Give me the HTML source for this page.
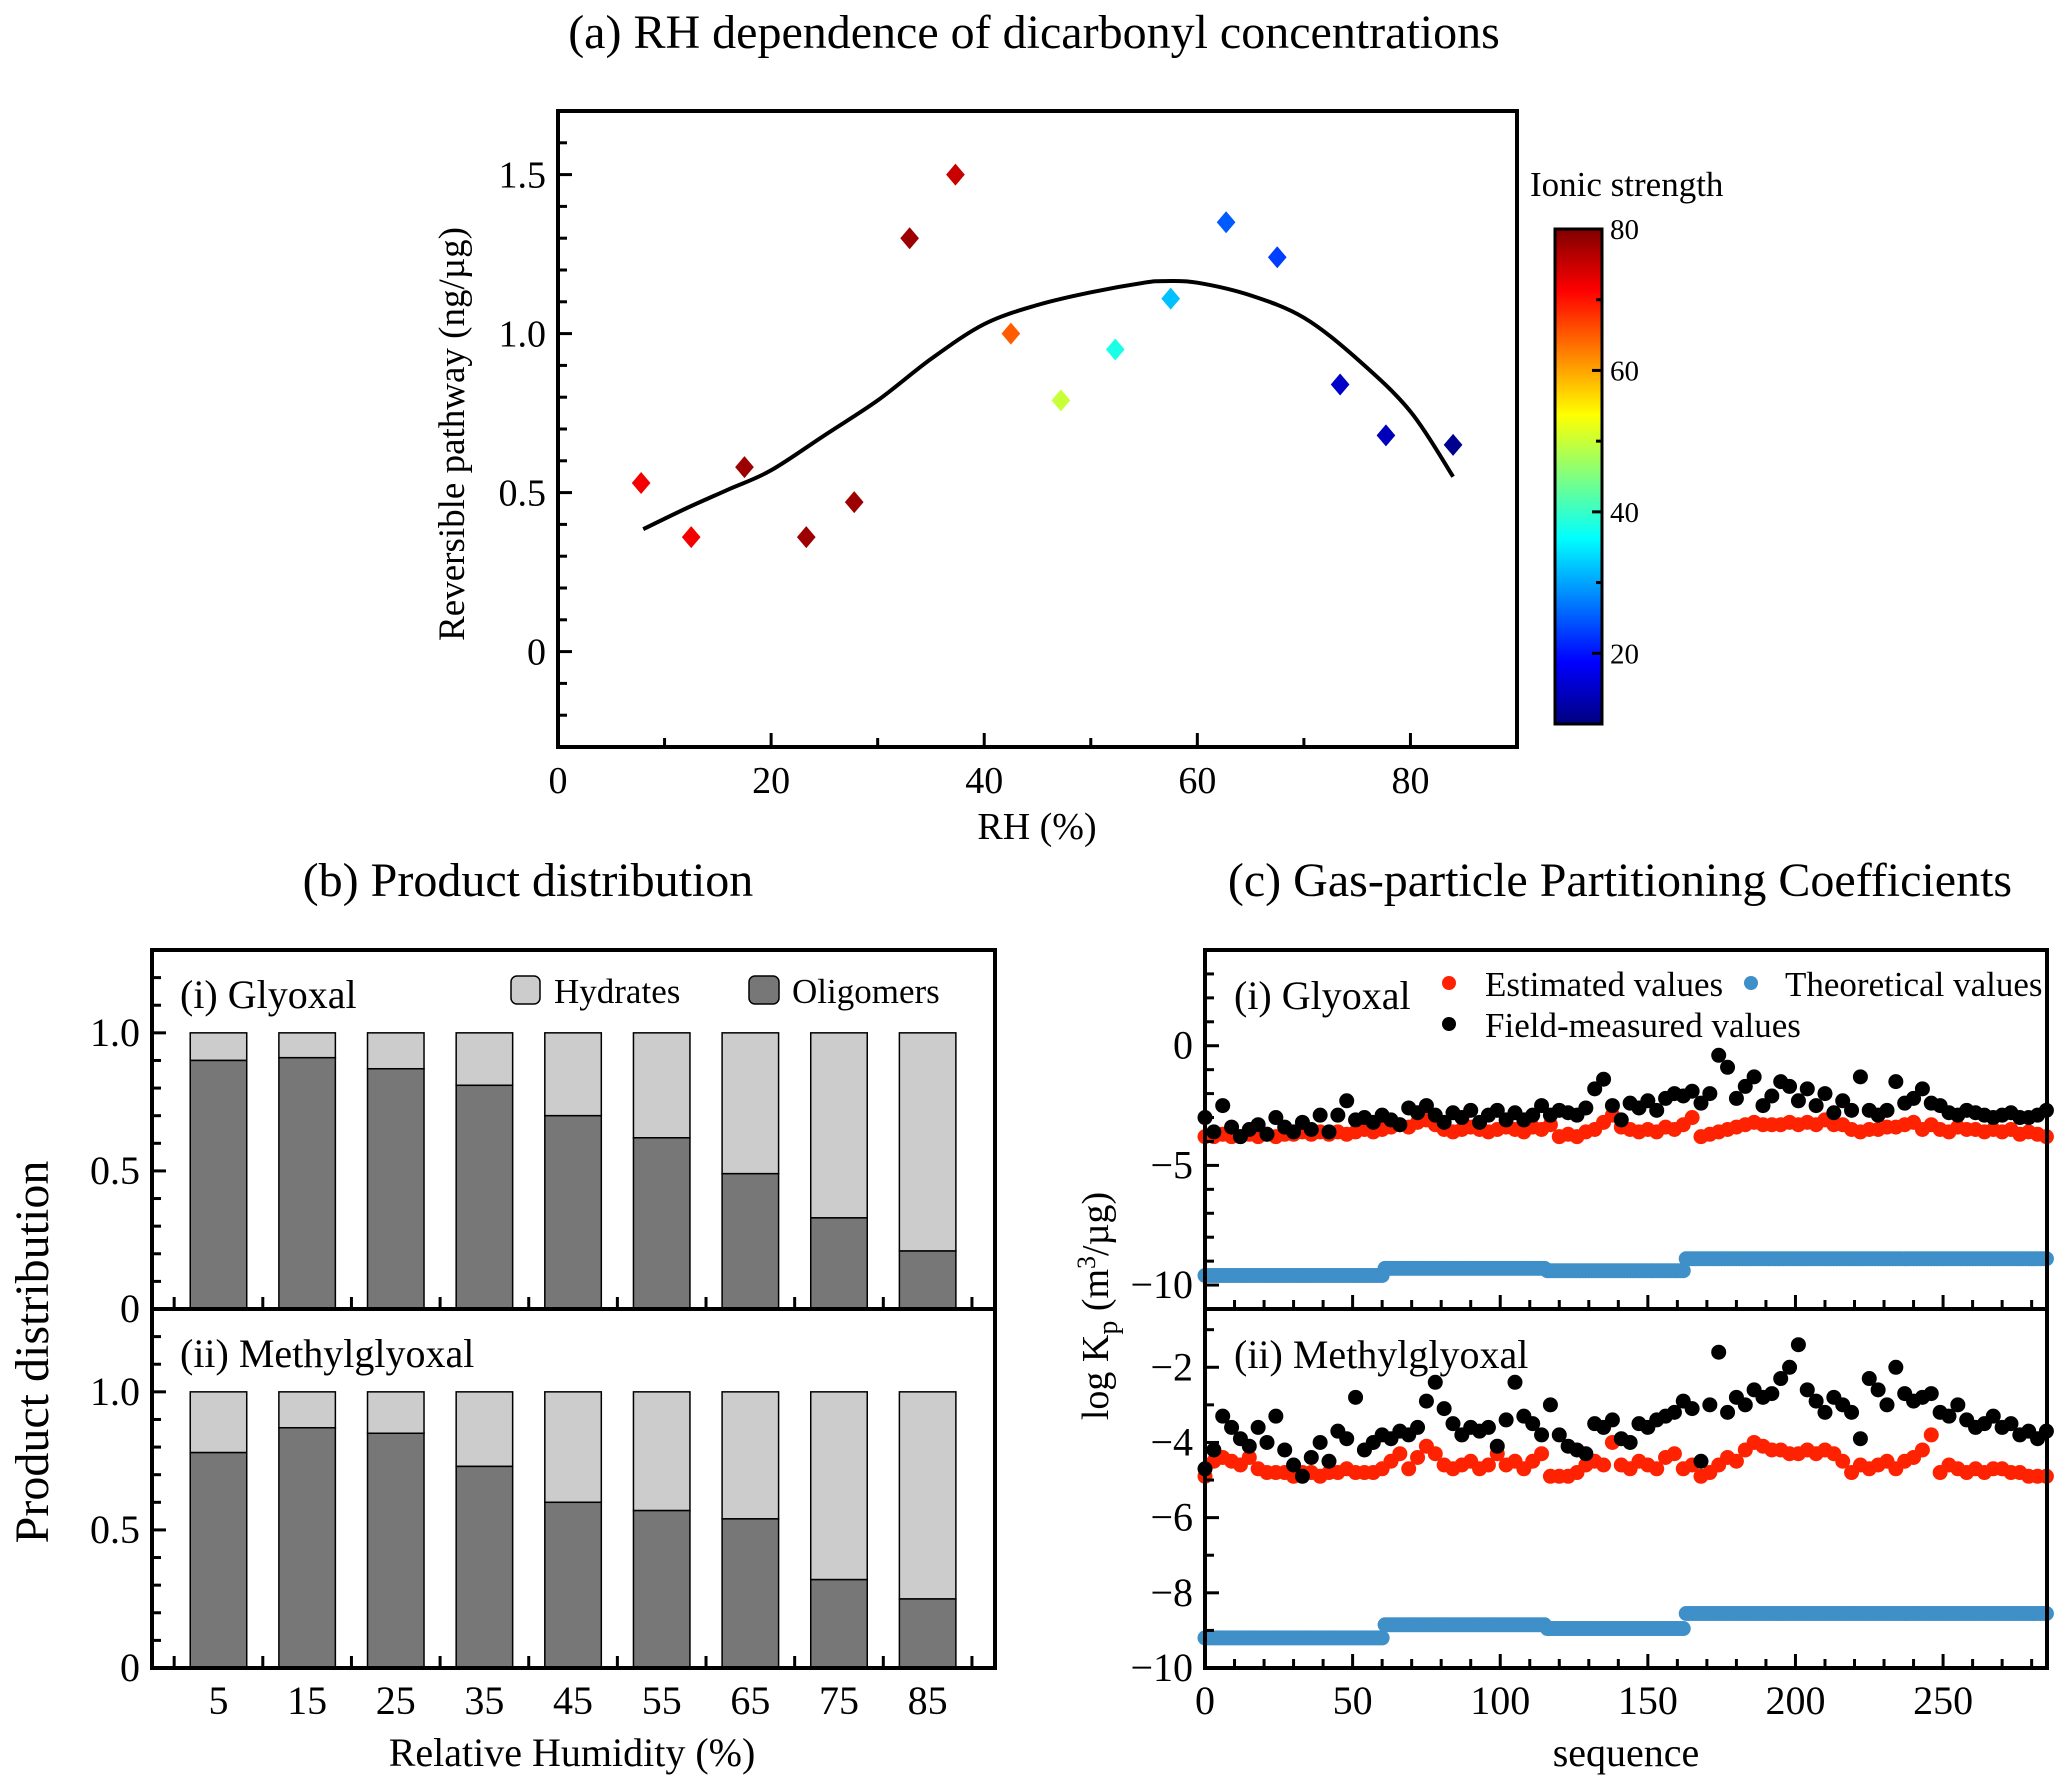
<!DOCTYPE html>
<html><head><meta charset="utf-8">
<style>
html,body{margin:0;padding:0;background:#fff;}
svg{display:block;font-family:"Liberation Serif",serif;}
svg text{font-family:"Liberation Serif",serif;}
</style></head>
<body>
<svg id="fig" width="2067" height="1789" viewBox="0 0 2067 1789" xmlns="http://www.w3.org/2000/svg">
<defs>
<linearGradient id="jet" x1="0" y1="1" x2="0" y2="0">
<stop offset="0" stop-color="#00007f"/><stop offset="0.125" stop-color="#0000ff"/>
<stop offset="0.375" stop-color="#00ffff"/><stop offset="0.625" stop-color="#ffff00"/>
<stop offset="0.875" stop-color="#ff0000"/><stop offset="1" stop-color="#7f0000"/>
</linearGradient>
</defs>
<text x="1034" y="48" font-size="48" text-anchor="middle">(a) RH dependence of dicarbonyl concentrations</text>
<text x="528" y="896" font-size="48" text-anchor="middle">(b) Product distribution</text>
<text x="1620" y="896" font-size="48" text-anchor="middle">(c) Gas-particle Partitioning Coefficients</text>
<g id="ga"></g>
<g id="gb"></g>
<g id="gc"></g>
</svg>
<script>
// ---------- Panel (a) data ----------
const rhValues = [7.8,12.5,17.5,23.3,27.8,33,37.3,42.5,47.2,52.3,57.5,62.7,67.5,73.4,77.7,84];
const reversibleValues = [0.53,0.36,0.58,0.36,0.47,1.30,1.50,1.00,0.79,0.95,1.11,1.35,1.24,0.84,0.68,0.65];
const ionicValues = [72,72,78,78,78,78,75,65,50,38,32,25,23,15,14,11];
const fitX = [8,12,16,20,25,30,35,40,45,50,55,57,60,65,70,75,80,84];
const fitY = [0.385,0.45,0.51,0.57,0.68,0.79,0.92,1.03,1.09,1.13,1.16,1.165,1.16,1.12,1.05,0.92,0.755,0.55];
const aXTicks = [0,20,40,60,80];
const aYTicks = [0,0.5,1.0,1.5];
const aYTickLabels = ["0","0.5","1.0","1.5"];
const cbTicks = [20,40,60,80];

// ---------- Panel (b) data ----------
const rhCategories = [5,15,25,35,45,55,65,75,85];
const glyoxalOligomers = [0.90,0.91,0.87,0.81,0.70,0.62,0.49,0.33,0.21];
const methylOligomers = [0.78,0.87,0.85,0.73,0.60,0.57,0.54,0.32,0.25];
const bYTicks = [0,0.5,1.0];
const bYTickLabels = ["0","0.5","1.0"];

// ---------- Panel (c) data (sequence step 3) ----------
const seqStep = 3;
const glyEstimated = [-3.8,-3.8,-3.7,-3.8,-3.8,-3.7,-3.8,-3.7,-3.8,-3.7,-3.7,-3.6,-3.7,-3.6,-3.7,-3.6,-3.7,-3.6,-3.5,-3.6,
-3.5,-3.4,-3.3,-3.4,-3.2,-3.1,-3.3,-3.5,-3.6,-3.5,-3.4,-3.5,-3.6,-3.5,-3.4,-3.5,-3.6,-3.4,-3.5,-3.3,
-3.8,-3.7,-3.8,-3.6,-3.5,-3.2,-2.9,-3.4,-3.5,-3.6,-3.5,-3.6,-3.4,-3.5,-3.3,-3.0,-3.8,-3.7,-3.6,-3.5,
-3.4,-3.3,-3.2,-3.3,-3.3,-3.3,-3.2,-3.3,-3.2,-3.3,-3.1,-3.3,-3.3,-3.5,-3.6,-3.5,-3.5,-3.4,-3.4,-3.3,
-3.2,-3.5,-3.3,-3.5,-3.6,-3.4,-3.5,-3.5,-3.6,-3.5,-3.6,-3.5,-3.7,-3.6,-3.7,-3.8];
const glyField = [-3.0,-3.6,-2.5,-3.4,-3.8,-3.5,-3.3,-3.7,-3.0,-3.4,-3.6,-3.2,-3.5,-2.9,-3.6,-2.9,-2.3,-3.1,-3.0,-3.2,
-2.9,-3.1,-3.3,-2.6,-2.8,-2.5,-2.9,-3.2,-2.8,-3.0,-2.7,-3.2,-2.9,-2.7,-3.1,-2.8,-3.1,-2.9,-2.5,-2.9,
-2.7,-2.8,-2.9,-2.6,-1.8,-1.4,-2.5,-3.1,-2.4,-2.6,-2.3,-2.7,-2.2,-2.0,-2.1,-1.9,-2.4,-2.0,-0.4,-0.9,
-2.2,-1.7,-1.3,-2.5,-2.1,-1.5,-1.7,-2.3,-1.8,-2.5,-2.0,-2.8,-2.3,-2.7,-1.3,-2.7,-2.9,-2.7,-1.5,-2.4,
-2.2,-1.8,-2.4,-2.5,-2.8,-2.9,-2.7,-2.8,-2.9,-3.0,-2.9,-2.8,-3.0,-3.0,-2.9,-2.7];
const methEstimated = [-4.9,-4.5,-4.4,-4.5,-4.6,-4.4,-4.7,-4.8,-4.8,-4.8,-4.9,-4.8,-4.8,-4.9,-4.8,-4.8,-4.7,-4.8,-4.8,-4.8,
-4.7,-4.5,-4.3,-4.7,-4.4,-4.1,-4.3,-4.6,-4.7,-4.6,-4.5,-4.7,-4.6,-4.3,-4.6,-4.5,-4.7,-4.5,-4.3,-4.9,
-4.9,-4.9,-4.8,-4.6,-4.5,-4.6,-4.0,-4.6,-4.7,-4.5,-4.6,-4.7,-4.4,-4.3,-4.7,-4.6,-4.9,-4.8,-4.6,-4.4,
-4.5,-4.2,-4.0,-4.1,-4.2,-4.2,-4.3,-4.3,-4.2,-4.3,-4.2,-4.3,-4.5,-4.8,-4.6,-4.7,-4.6,-4.5,-4.7,-4.5,
-4.4,-4.2,-3.8,-4.8,-4.6,-4.7,-4.8,-4.7,-4.8,-4.7,-4.7,-4.8,-4.8,-4.9,-4.9,-4.9];
const methField = [-4.7,-4.2,-3.3,-3.6,-3.9,-4.1,-3.6,-4.0,-3.3,-4.2,-4.6,-4.9,-4.4,-4.0,-4.5,-3.7,-3.9,-2.8,-4.2,-4.0,
-3.8,-3.9,-3.7,-3.8,-3.6,-2.9,-2.4,-3.1,-3.5,-3.8,-3.6,-3.7,-3.6,-4.1,-3.4,-2.4,-3.3,-3.5,-3.8,-3.0,
-3.8,-4.1,-4.2,-4.3,-3.5,-3.6,-3.4,-3.9,-4.0,-3.5,-3.6,-3.4,-3.3,-3.2,-2.9,-3.1,-4.5,-3.0,-1.6,-3.2,
-2.8,-3.0,-2.6,-2.8,-2.7,-2.3,-2.0,-1.4,-2.6,-2.9,-3.2,-2.8,-3.0,-3.2,-3.9,-2.3,-2.6,-3.0,-2.0,-2.7,
-2.9,-2.8,-2.7,-3.2,-3.3,-3.0,-3.4,-3.6,-3.5,-3.3,-3.6,-3.5,-3.8,-3.7,-3.9,-3.7];
const theoBreaks = [0,61,116,163,286];
const glyTheoretical = [-9.6,-9.3,-9.4,-8.9];
const methTheoretical = [-9.2,-8.85,-8.95,-8.55];
const cXTicks = [0,50,100,150,200,250];
const glyYTicks = [0,-5,-10];
const glyYTickLabels = ["0","\u22125","\u221210"];
const methYTicks = [-2,-4,-6,-8,-10];
const methYTickLabels = ["\u22122","\u22124","\u22126","\u22128","\u221210"];

const NS = "http://www.w3.org/2000/svg";
function mk(parent, tag, attrs, text){
  const e = document.createElementNS(NS, tag);
  for (const k in attrs) e.setAttribute(k, attrs[k]);
  if (tag === 'text') e.setAttribute('font-family', '"Liberation Serif", serif');
  if (text !== undefined) e.textContent = text;
  parent.appendChild(e);
  return e;
}
function lin(d0,d1,r0,r1){ return v => r0 + (v-d0)/(d1-d0)*(r1-r0); }
function jet(t){
  t = Math.max(0, Math.min(1, t));
  const f = x => Math.max(0, Math.min(1, x));
  const r = f(1.5 - Math.abs(4*t - 3)), g = f(1.5 - Math.abs(4*t - 2)), b = f(1.5 - Math.abs(4*t - 1));
  return `rgb(${Math.round(r*255)},${Math.round(g*255)},${Math.round(b*255)})`;
}
function smoothPath(P){
  let d = `M${P[0][0]},${P[0][1]}`;
  for (let i=0;i<P.length-1;i++){
    const p0=P[Math.max(0,i-1)], p1=P[i], p2=P[i+1], p3=P[Math.min(P.length-1,i+2)];
    const c1=[p1[0]+(p2[0]-p0[0])/6, p1[1]+(p2[1]-p0[1])/6];
    const c2=[p2[0]-(p3[0]-p1[0])/6, p2[1]-(p3[1]-p1[1])/6];
    d += ` C${c1[0].toFixed(1)},${c1[1].toFixed(1)} ${c2[0].toFixed(1)},${c2[1].toFixed(1)} ${p2[0].toFixed(1)},${p2[1].toFixed(1)}`;
  }
  return d;
}

// ================= Panel A =================
(function(){
  const g = document.getElementById('ga');
  const L=558, R=1517, T=111, B=747;
  const x = lin(0,90,L,R), y = lin(-0.3,1.7,B,T);
  for (let v=0; v<=90; v+=10){
    const major = aXTicks.includes(v);
    const t = mk(g,'line',{x1:x(v),x2:x(v),y1:B,y2:B-(major?14:9),stroke:'#000','stroke-width':3});
     
  }
  aXTicks.forEach(v=>{
    const t = mk(g,'text',{x:x(v),y:793,'font-size':38,'text-anchor':'middle'},String(v));
     
  });
  for (let i=-3;i<=16;i++){
    const v=i/10; const major = i%5===0;
    const t = mk(g,'line',{x1:L,x2:L+(major?14:9),y1:y(v),y2:y(v),stroke:'#000','stroke-width':3});
     
  }
  aYTicks.forEach((v,i)=>{
    const t = mk(g,'text',{x:546,y:y(v)+13,'font-size':38,'text-anchor':'end'},aYTickLabels[i]);
     
  });
  const P = fitX.map((v,i)=>[x(v), y(fitY[i])]);
  const c = mk(g,'path',{d:smoothPath(P),fill:'none',stroke:'#000','stroke-width':4});
   
  rhValues.forEach((v,i)=>{
    const cx=x(v), cy=y(reversibleValues[i]), s=11;
    const p = mk(g,'polygon',{points:`${cx},${cy-s} ${cx+s*0.85},${cy} ${cx},${cy+s} ${cx-s*0.85},${cy}`,fill:jet((ionicValues[i]-10)/70)});
     
  });
  const fr = mk(g,'rect',{x:L,y:T,width:R-L,height:B-T,fill:'none',stroke:'#000','stroke-width':4});
   
  const yl = mk(g,'text',{x:0,y:0,'font-size':37,'text-anchor':'middle',transform:'translate(464,434) rotate(-90)'},'Reversible pathway (ng/\u00b5g)');
   
  const xl = mk(g,'text',{x:1037,y:839,'font-size':38,'text-anchor':'middle'},'RH (%)');
   
  const cbL=1555, cbR=1602, cbT=229, cbB=724;
  const cy = lin(10,80,cbB,cbT);
  const cb = mk(g,'rect',{x:cbL,y:cbT,width:cbR-cbL,height:cbB-cbT,fill:'url(#jet)',stroke:'#000','stroke-width':3});
   
  for (let v=20; v<=80; v+=10){
    const t = mk(g,'line',{x1:cbR,x2:cbR-(v%20===0?10:6),y1:cy(v),y2:cy(v),stroke:'#000','stroke-width':3});
     
  }
  cbTicks.forEach(v=>{
    const t = mk(g,'text',{x:1610,y:cy(v)+10,'font-size':29},String(v));
     
  });
  const ct = mk(g,'text',{x:1530,y:196,'font-size':35},'Ionic strength');
   
})();

// ================= Panel B =================
(function(){
  const g = document.getElementById('gb');
  const L=152, R=995, T=950, M=1309, B=1668;
  const x = lin(-2.5,92.6,L,R);
  const bw = 56.5;
  const sub = [
    {top:T, bot:M, data:glyoxalOligomers, label:'(i) Glyoxal', name:'glyoxal'},
    {top:M, bot:B, data:methylOligomers, label:'(ii) Methylglyoxal', name:'methylglyoxal'}
  ];
  sub.forEach((s,si)=>{
    const y = lin(0,1.3,s.bot,s.top);
    s.data.forEach((v,i)=>{
      const cx = x(rhCategories[i]);
      const h = mk(g,'rect',{x:cx-bw/2,y:y(1),width:bw,height:y(v)-y(1),fill:'#cccccc',stroke:'#000','stroke-width':1.5});
       
      const o = mk(g,'rect',{x:cx-bw/2,y:y(v),width:bw,height:y(0)-y(v),fill:'#777777',stroke:'#000','stroke-width':1.5});
       
    });
    for (let i=0;i<=12;i++){
      const v=i/10, major=i%5===0;
      const t = mk(g,'line',{x1:L,x2:L+(major?14:9),y1:y(v),y2:y(v),stroke:'#000','stroke-width':3});
       
    }
    bYTicks.forEach((v,i)=>{
      const t = mk(g,'text',{x:140,y:y(v)+13,'font-size':40,'text-anchor':'end'},bYTickLabels[i]);
       
    });
    for (let v=0; v<=90; v+=10){
      const t = mk(g,'line',{x1:x(v),x2:x(v),y1:s.bot,y2:s.bot-12,stroke:'#000','stroke-width':3});
       
    }
    const lb = mk(g,'text',{x:180,y:s.top+58,'font-size':40},s.label);
     
  });
  const fr = mk(g,'rect',{x:L,y:T,width:R-L,height:B-T,fill:'none',stroke:'#000','stroke-width':4});
   
  const dv = mk(g,'line',{x1:L,x2:R,y1:M,y2:M,stroke:'#000','stroke-width':4});
   
  rhCategories.forEach(v=>{
    const t = mk(g,'text',{x:x(v),y:1714,'font-size':40,'text-anchor':'middle'},String(v));
     
  });
  const xl = mk(g,'text',{x:572,y:1766,'font-size':40,'text-anchor':'middle'},'Relative Humidity (%)');
   
  const yl = mk(g,'text',{x:0,y:0,'font-size':48,'text-anchor':'middle',transform:'translate(48,1352) rotate(-90)'},'Product distribution');
   
  const l1 = mk(g,'rect',{x:511,y:976,width:29,height:28,rx:6,fill:'#cccccc',stroke:'#000','stroke-width':1.5});
   
  const t1 = mk(g,'text',{x:554,y:1003,'font-size':35},'Hydrates');
   
  const l2 = mk(g,'rect',{x:749,y:976,width:30,height:28,rx:6,fill:'#777777',stroke:'#000','stroke-width':1.5});
   
  const t2 = mk(g,'text',{x:792,y:1003,'font-size':35},'Oligomers');
   
})();

// ================= Panel C =================
(function(){
  const g = document.getElementById('gc');
  const L=1205, R=2047, T=950, M=1309, B=1668;
  const x = lin(0,285.2,L,R);
  const r = 7.5;
  const sub = [
    {top:T,bot:M,d0:-11,d1:4,est:glyEstimated,fld:glyField,theo:glyTheoretical,ticks:glyYTicks,labels:glyYTickLabels,minor:[-11,3,1],label:'(i) Glyoxal',name:'glyoxal'},
    {top:M,bot:B,d0:-10,d1:-0.45,est:methEstimated,fld:methField,theo:methTheoretical,ticks:methYTicks,labels:methYTickLabels,minor:[-10,-1,1],label:'(ii) Methylglyoxal',name:'methylglyoxal'}
  ];
  sub.forEach(s=>{
    const y = lin(s.d0,s.d1,s.bot,s.top);
    const grp = mk(g,'g',{});
    for (let k=0;k<s.theo.length;k++){
      for (let q=theoBreaks[k]; q<theoBreaks[k+1]; q++){
        const c = mk(grp,'circle',{cx:x(q),cy:y(s.theo[k]),r:r,fill:'#3f8fc8'});
         
      }
    }
    s.est.forEach((v,i)=>{
      const c = mk(grp,'circle',{cx:x(i*seqStep),cy:y(v),r:r,fill:'#ff2200'});
       
    });
    s.fld.forEach((v,i)=>{
      const c = mk(grp,'circle',{cx:x(i*seqStep),cy:y(v),r:r,fill:'#000'});
       
    });
    for (let v=s.minor[0]; v<=s.minor[1]; v+=s.minor[2]){
      const major = s.ticks.includes(v);
      const t = mk(g,'line',{x1:L,x2:L+(major?14:9),y1:y(v),y2:y(v),stroke:'#000','stroke-width':3});
       
    }
    s.ticks.forEach((v,i)=>{
      const t = mk(g,'text',{x:1193,y:y(v)+13,'font-size':40,'text-anchor':'end'},s.labels[i]);
       
    });
    for (let v=0; v<=280; v+=10){
      const major = v%50===0;
      const t = mk(g,'line',{x1:x(v),x2:x(v),y1:s.bot,y2:s.bot-(major?14:9),stroke:'#000','stroke-width':3});
       
    }
    const lb = mk(g,'text',{x:1234,y:s.top+59,'font-size':40},s.label);
     
  });
  const fr = mk(g,'rect',{x:L,y:T,width:R-L,height:B-T,fill:'none',stroke:'#000','stroke-width':4});
   
  const dv = mk(g,'line',{x1:L,x2:R,y1:M,y2:M,stroke:'#000','stroke-width':4});
   
  cXTicks.forEach(v=>{
    const t = mk(g,'text',{x:x(v),y:1714,'font-size':40,'text-anchor':'middle'},String(v));
     
  });
  const xl = mk(g,'text',{x:1626,y:1766,'font-size':40,'text-anchor':'middle'},'sequence');
   
  const yl = mk(g,'text',{x:0,y:0,'font-size':38,'text-anchor':'middle',transform:'translate(1108,1306) rotate(-90)'});
   
  yl.innerHTML = 'log K<tspan dy="9" font-size="28">p</tspan><tspan dy="-9"> (m</tspan><tspan dy="-13" font-size="26">3</tspan><tspan dy="13">/\u00b5g)</tspan>';
  const items = [
    {cx:1449,cy:983,fill:'#ff2200',tx:1485,ty:996,t:'Estimated values',n:'legend-estimated'},
    {cx:1751,cy:983,fill:'#3f8fc8',tx:1785,ty:996,t:'Theoretical values',n:'legend-theoretical'},
    {cx:1449,cy:1024,fill:'#000',tx:1485,ty:1037,t:'Field-measured values',n:'legend-field-measured'}
  ];
  items.forEach(it=>{
    const c = mk(g,'circle',{cx:it.cx,cy:it.cy,r:7,fill:it.fill});
     
    const t = mk(g,'text',{x:it.tx,y:it.ty,'font-size':35},it.t);
     
  });
})();
</script>
</body></html>
